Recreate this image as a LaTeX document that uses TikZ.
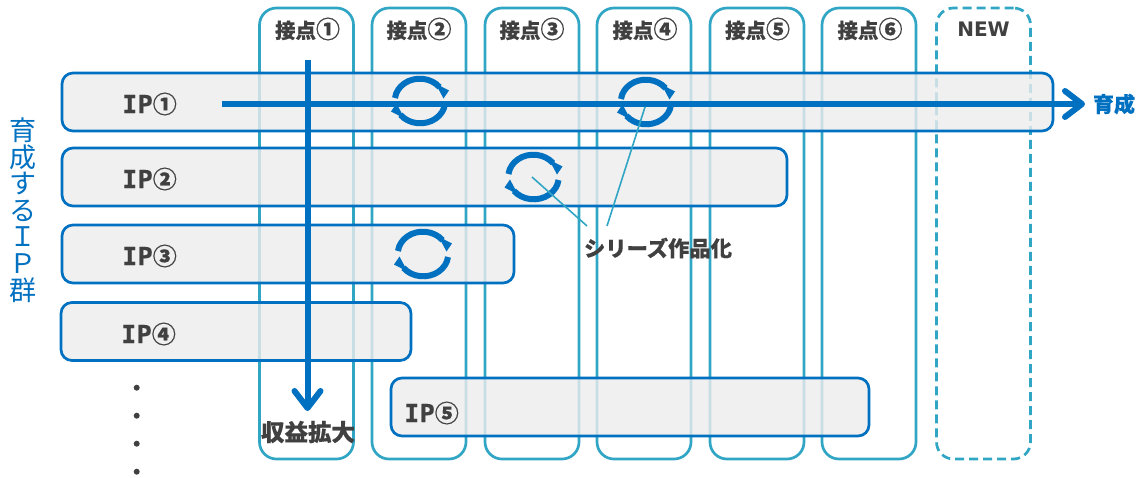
\documentclass[tikz,border=0pt]{standalone}
\usepackage{fontspec}
\setmainfont[BoldFeatures={FakeBold=0.35}]{Noto Sans CJK JP}
\newfontfamily\latinbold[BoldFont={DejaVu Sans Bold}]{DejaVu Sans}
\newfontfamily\ipmono[FakeBold=0.35]{DejaVu Sans Mono Bold}
\usetikzlibrary{arrows.meta}
\definecolor{ipblue}{HTML}{0070C0}
\definecolor{colteal}{HTML}{31A6C4}
\definecolor{txtgray}{HTML}{404040}
\definecolor{barfill}{HTML}{ECECEC}
\newcommand{\circd}[1]{{\fontsize{24}{24}\selectfont\bfseries #1}}
\newcommand{\ipname}[1]{{\ipmono\fontsize{25}{25}\selectfont I\kern.5pt P}\circd{#1}}
\tikzset{
  colbox/.style={draw=colteal,line width=2.7pt,rounded corners=17pt,minimum width=94pt,minimum height=451pt,inner sep=0pt,outer sep=0pt},
  newbox/.style={colbox,dashed,dash pattern=on 9pt off 5pt},
  ipbar/.style={draw=ipblue,line width=2.7pt,fill=barfill,fill opacity=.8,draw opacity=1,rounded corners=11pt,minimum height=58pt,inner sep=0pt,outer sep=0pt},
  coltitle/.style={text=txtgray,font=\fontsize{20.5}{21}\selectfont\bfseries,inner sep=0pt},
  iplabel/.style={text=txtgray,anchor=west,inner sep=0pt},
  callout/.style={text=txtgray,font=\fontsize{21.3}{22}\selectfont\bfseries,inner sep=0pt},
  mainarrow/.style={draw=ipblue,line width=6pt,-{Straight Barb[length=17pt,width=26pt,round]}},
  leader/.style={draw=colteal,line width=1.6pt},
  bulletdot/.style={circle,fill=txtgray,minimum size=6pt,inner sep=0pt},
  pics/cyclearrow/.style={code={
    \draw[ipblue,line width=6pt] (-25,-3) arc[start angle=187,end angle=322,x radius=25,y radius=22];
    \fill[ipblue] (15.5,-17.5) -- (29,-10.5) -- (23.5,-2.5) -- cycle;
    \draw[ipblue,line width=6pt] (25,3) arc[start angle=7,end angle=142,x radius=25,y radius=22];
    \fill[ipblue] (-15.5,17.5) -- (-29,10.5) -- (-23.5,2.5) -- cycle;
  }}
}
\begin{document}
\begin{tikzpicture}[x=1pt,y=-1pt]
\useasboundingbox (0,0) rectangle (1142,477);
% columns
\node[colbox] (c1) at (306.5,233.5) {};
\node[colbox] (c2) at (419,233.5) {};
\node[colbox] (c3) at (532,233.5) {};
\node[colbox] (c4) at (644,233.5) {};
\node[colbox] (c5) at (757,233.5) {};
\node[colbox] (c6) at (869,233.5) {};
\node[newbox] (c7) at (983.5,233.5) {};
\node[coltitle] (t1) at (307.5,29) {接点\circd{①}};
\node[coltitle] (t2) at (419,29) {接点\circd{②}};
\node[coltitle] (t3) at (532,29) {接点\circd{③}};
\node[coltitle] (t4) at (645,29) {接点\circd{④}};
\node[coltitle] (t5) at (757.5,29) {接点\circd{⑤}};
\node[coltitle] (t6) at (870,29) {接点\circd{⑥}};
\node[text=txtgray,inner sep=0pt,font=\latinbold\fontsize{20}{20}\selectfont\bfseries] (t7) at (983.5,29) {NEW};
% IP bars
\node[ipbar,minimum width=991pt] (b1) at (557.5,102) {};
\node[ipbar,minimum width=725pt] (b2) at (424.5,177) {};
\node[ipbar,minimum width=452pt] (b3) at (288,254) {};
\node[ipbar,minimum width=350pt] (b4) at (236,331.5) {};
\node[ipbar,minimum width=478pt] (b5) at (630,407) {};
\node[iplabel] (l1) at (122,104) {\ipname{①}};
\node[iplabel] (l2) at (122,179) {\ipname{②}};
\node[iplabel] (l3) at (122,256) {\ipname{③}};
\node[iplabel] (l4) at (121,334) {\ipname{④}};
\node[iplabel] (l5) at (404,413) {\ipname{⑤}};
% cycle arrows
\pic at (420,101) {cyclearrow};
\pic at (646,102) {cyclearrow};
\pic at (533.5,177) {cyclearrow};
\pic at (423,254) {cyclearrow};
% main arrows
\coordinate (hs) at (222,104);
\coordinate (he) at (1085,104);
\coordinate (vs) at (307.5,60);
\coordinate (ve) at (307.5,411);
\draw[mainarrow] (hs) -- (he);
\draw[mainarrow] (vs) -- (ve);
% leaders
\coordinate (a1) at (532,177);
\coordinate (a2) at (587,226);
\coordinate (a3) at (645,107);
\coordinate (a4) at (607,226);
\draw[leader] (a1) -- (a2);
\draw[leader] (a3) -- (a4);
% labels
\node[callout] (series) at (658,248) {シリーズ作品化};
\node[text=txtgray,inner sep=0pt,font=\fontsize{23.5}{24}\selectfont\bfseries] (profit) at (308,432) {収益拡大};
\node[text=ipblue,inner sep=0pt,font=\fontsize{21}{22}\selectfont\bfseries] (grow) at (1114,104) {育成};
\node[text=ipblue,inner sep=0pt,align=center,font=\fontsize{27}{26.6}\selectfont] (vert) at (23,210) {育\\成\\す\\る\\Ｉ\\Ｐ\\群};
% dots
\node[bulletdot] (d1) at (136.7,387.7) {};
\node[bulletdot] (d2) at (136.7,415.7) {};
\node[bulletdot] (d3) at (136.7,443.7) {};
\node[bulletdot] (d4) at (136.7,471.7) {};
\end{tikzpicture}
\end{document}
